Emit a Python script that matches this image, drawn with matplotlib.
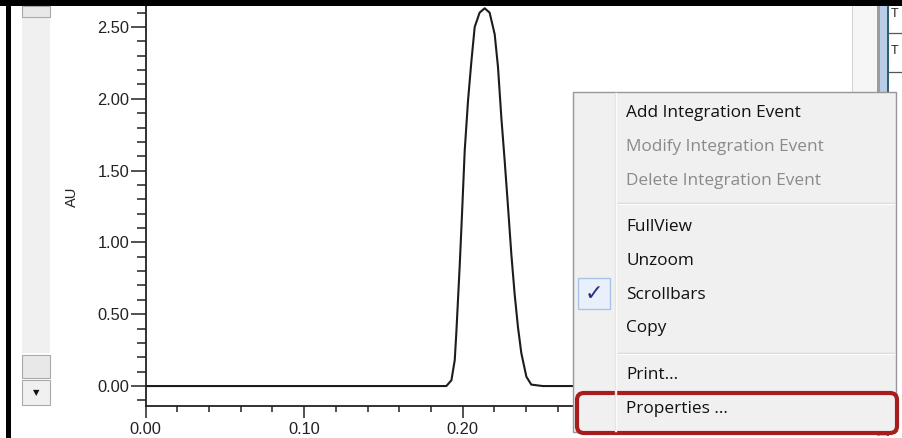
import matplotlib
matplotlib.use('Agg')
import matplotlib.pyplot as plt
from matplotlib.patches import Rectangle, FancyBboxPatch
from matplotlib.ticker import MultipleLocator, FormatStrFormatter

# chromatogram trace (retention time in min, AU)
ret_time = [0.000, 0.1897, 0.1929, 0.1950, 0.1960, 0.1981, 0.1996, 0.2013, 0.2034,
            0.2055, 0.2076, 0.2107, 0.2139, 0.2170, 0.2202, 0.2223, 0.2244, 0.2265,
            0.2286, 0.2307, 0.2328, 0.2349, 0.2370, 0.2402, 0.2433, 0.2505, 0.446]
absorbance = [0.00, 0.00, 0.04, 0.18, 0.37, 0.83, 1.20, 1.64, 1.99,
              2.26, 2.50, 2.60, 2.63, 2.60, 2.45, 2.22, 1.87, 1.57,
              1.25, 0.92, 0.64, 0.41, 0.23, 0.065, 0.01, 0.00, 0.00]

# context menu entries (label, enabled)
menu_labels = ['Add Integration Event', 'Modify Integration Event', 'Delete Integration Event',
               'FullView', 'Unzoom', 'Scrollbars', 'Copy', 'Print...', 'Properties ...']
menu_enabled = [True, False, False, True, True, True, True, True, True]
menu_rows = [113, 147, 181, 227, 261, 295, 328, 375, 409]
checked_item = 'Scrollbars'

W, H = 902, 438
fig = plt.figure(figsize=(W / 100, H / 100), dpi=100)
fig.patch.set_facecolor('white')

# the chart itself
ax = fig.add_axes([145.7 / W, 32 / H, (853 - 145.7) / W, 400 / H])
ax.plot(ret_time, absorbance, color='#1c1c1c', lw=1.5)
ax.set_xlim(0, 0.4463)
ax.set_ylim(-0.139, 2.646)
ax.spines['top'].set_visible(False)
for s in ['left', 'bottom', 'right']:
    ax.spines[s].set_color('#222222')
ax.spines['left'].set_linewidth(1.3)
ax.spines['bottom'].set_linewidth(1.3)
ax.spines['right'].set_linewidth(1.0)

ax.xaxis.set_major_locator(MultipleLocator(0.1))
ax.xaxis.set_minor_locator(MultipleLocator(0.02))
ax.yaxis.set_major_locator(MultipleLocator(0.5))
ax.yaxis.set_minor_locator(MultipleLocator(0.1))
ax.xaxis.set_major_formatter(FormatStrFormatter('%.2f'))
ax.yaxis.set_major_formatter(FormatStrFormatter('%.2f'))

ax.tick_params(axis='x', which='major', direction='out', length=8.3, width=1.1,
               pad=3.0, labelsize=11.8, colors='#222222')
ax.tick_params(axis='x', which='minor', direction='out', length=4.3, width=1.1, colors='#222222')
ax.tick_params(axis='y', which='major', direction='out', length=10.8, width=1.1,
               pad=0.8, labelsize=11.8, colors='#222222')
ax.tick_params(axis='y', which='minor', direction='out', length=6.5, width=1.1, colors='#222222')
for lab in ax.get_xticklabels() + ax.get_yticklabels():
    lab.set_family('Liberation Sans')

fig.text(72 / W, 1 - 197 / H, 'AU', rotation=90, ha='center', va='center',
         fontsize=10.5, family='Liberation Sans', color='#222222')

# window decoration + context menu, drawn in pixel coordinates
ov = fig.add_axes([0, 0, 1, 1], zorder=5)
ov.set_xlim(0, W)
ov.set_ylim(H, 0)
ov.axis('off')
ov.patch.set_alpha(0)

ov.add_patch(Rectangle((0, 0), W, 6, fc='black', ec='none'))
ov.add_patch(Rectangle((6, 0), 5, H, fc='black', ec='none'))

# scrollbar on the left
ov.add_patch(Rectangle((22, 6), 28, 347, fc='#f0f0f0', ec='none'))
ov.add_patch(Rectangle((22, 6), 28, 11, fc='#e8e8e8', ec='#a9a9a9', lw=0.8))
ov.add_patch(Rectangle((22, 355), 28, 23, fc='#e8e8e8', ec='#a9a9a9', lw=0.8))
ov.add_patch(Rectangle((22, 380), 28, 25, fc='#f0f0f0', ec='#a9a9a9', lw=0.8))
ov.text(36, 393, '\u25bc', ha='center', va='center', fontsize=6, color='#111111',
        family='DejaVu Sans')

# panel on the right
ov.add_patch(Rectangle((853, 6), 24, 86, fc='#f6f6f6', ec='none'))
ov.add_patch(Rectangle((877, 6), 3, 430, fc='#9c9c9c', ec='none'))
ov.add_patch(Rectangle((880, 6), 7, 430, fc='#b9cde6', ec='none'))
ov.add_patch(Rectangle((887, 6), 2, 430, fc='#2f5f70', ec='none'))
ov.add_patch(Rectangle((889, 6), 13, 430, fc='white', ec='none'))
for yy in [33, 72]:
    ov.plot([889, W], [yy, yy], color='#555555', lw=0.9)
for yy in [14, 51]:
    ov.text(891, yy, 'T', ha='left', va='center', fontsize=9, color='#222222',
            family='Liberation Sans')

# context menu
ov.add_patch(Rectangle((573, 92), 323, 340, fc='#f0f0f0', ec='#979797', lw=1.0))
ov.plot([615, 615], [93, 431], color='#e0e0e0', lw=1.0)
ov.plot([616, 616], [93, 431], color='#fbfbfb', lw=1.0)
for yy in [203, 353]:
    ov.plot([618, 894], [yy, yy], color='#d5d5d5', lw=1.0)
    ov.plot([618, 894], [yy + 1, yy + 1], color='#fcfcfc', lw=1.0)

for label, on, yy in zip(menu_labels, menu_enabled, menu_rows):
    ov.text(626, yy, label, ha='left', va='center', fontsize=12.4, family='Open Sans',
            color='#111111' if on else '#8a8a8a')
    if label == checked_item:
        ov.add_patch(Rectangle((578, yy - 17), 32, 31, fc='#e9f0fb', ec='#a9c2ea', lw=1.0))
        ov.text(594, yy - 1, '\u2713', ha='center', va='center', fontsize=16,
                color='#27307e', family='DejaVu Sans', fontweight='bold')

ov.add_patch(FancyBboxPatch((577, 393), 320, 40, boxstyle='round,pad=0,rounding_size=7',
                            fc='none', ec='#a81c1e', lw=3.0))

fig.savefig('out.png', dpi=100)
